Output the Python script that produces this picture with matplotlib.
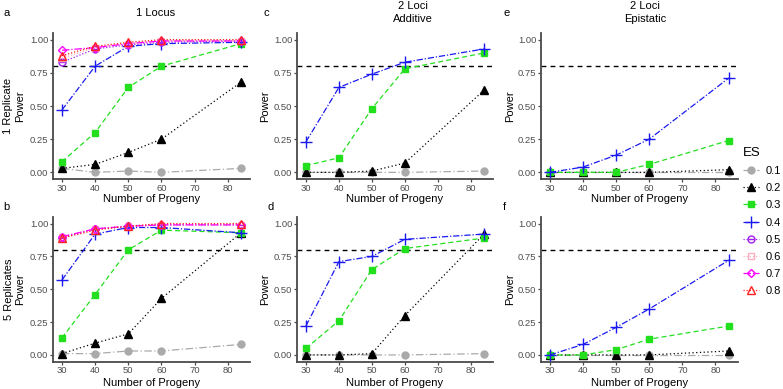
import matplotlib
matplotlib.use("Agg")
import matplotlib.pyplot as plt
from matplotlib.lines import Line2D

plt.rcParams['font.family'] = ['Liberation Sans', 'DejaVu Sans']

progeny = [30, 40, 50, 60, 84]
es_levels = ["0.1", "0.2", "0.3", "0.4", "0.5", "0.6", "0.7", "0.8"]

# Panel a: 1 locus, 1 replicate
a_vals = {
    "0.1": [0.03, 0.00, 0.01, 0.00, 0.03],
    "0.2": [0.03, 0.06, 0.15, 0.25, 0.68],
    "0.3": [0.08, 0.30, 0.64, 0.80, 0.97],
    "0.4": [0.47, 0.80, 0.95, 0.97, 0.98],
    "0.5": [0.83, 0.93, 0.96, 0.98, 0.99],
    "0.6": [0.86, 0.94, 0.97, 0.99, 0.99],
    "0.7": [0.92, 0.94, 0.97, 0.99, 0.99],
    "0.8": [0.88, 0.95, 0.98, 1.00, 1.00],
}
# Panel b: 1 locus, 5 replicates
b_vals = {
    "0.1": [0.01, 0.01, 0.03, 0.03, 0.08],
    "0.2": [0.01, 0.09, 0.16, 0.43, 0.93],
    "0.3": [0.13, 0.46, 0.80, 0.95, 0.93],
    "0.4": [0.57, 0.92, 0.97, 0.97, 0.93],
    "0.5": [0.89, 0.96, 0.98, 0.99, 0.99],
    "0.6": [0.90, 0.96, 0.98, 0.99, 0.99],
    "0.7": [0.90, 0.96, 0.98, 0.99, 0.99],
    "0.8": [0.89, 0.95, 0.98, 1.00, 1.00],
}
# Panel c: 2 loci additive, 1 replicate
c_vals = {
    "0.1": [0.00, 0.00, 0.00, 0.00, 0.01],
    "0.2": [0.00, 0.00, 0.01, 0.07, 0.62],
    "0.3": [0.05, 0.11, 0.48, 0.78, 0.90],
    "0.4": [0.23, 0.64, 0.74, 0.83, 0.93],
}
# Panel d: 2 loci additive, 5 replicates
d_vals = {
    "0.1": [0.00, 0.00, 0.00, 0.00, 0.01],
    "0.2": [0.00, 0.00, 0.01, 0.30, 0.92],
    "0.3": [0.05, 0.26, 0.65, 0.81, 0.89],
    "0.4": [0.22, 0.71, 0.75, 0.88, 0.92],
}
# Panel e: 2 loci epistatic, 1 replicate
e_vals = {
    "0.1": [0.00, 0.00, 0.00, 0.00, 0.00],
    "0.2": [0.00, 0.00, 0.00, 0.00, 0.02],
    "0.3": [0.00, 0.00, 0.00, 0.06, 0.24],
    "0.4": [0.00, 0.04, 0.13, 0.25, 0.71],
}
# Panel f: 2 loci epistatic, 5 replicates
f_vals = {
    "0.1": [0.00, 0.00, 0.00, 0.00, 0.00],
    "0.2": [0.00, 0.00, 0.00, 0.00, 0.03],
    "0.3": [0.00, 0.00, 0.04, 0.12, 0.22],
    "0.4": [0.00, 0.08, 0.21, 0.35, 0.72],
}

styles = {
    "0.1": dict(color="#AAAAAA", ls=(0, (6, 2, 1, 2)), marker="o", mfc="#AAAAAA"),
    "0.2": dict(color="black", ls=(0, (1, 2)), marker="^", mfc="black"),
    "0.3": dict(color="#22E01E", ls=(0, (4, 2.5)), marker="s", mfc="#22E01E"),
    "0.4": dict(color="#1A1AF0", ls=(0, (5, 1.5, 1, 1.5)), marker="+", mfc="#1A1AF0"),
    "0.5": dict(color="#A020F0", ls=(0, (1, 1.5)), marker="o", mfc="none"),
    "0.6": dict(color="#FFB0C0", ls=(0, (1, 1.5)), marker="s", mfc="none"),
    "0.7": dict(color="#FF00FF", ls=(0, (6, 1.5, 1, 1.5)), marker="D", mfc="none"),
    "0.8": dict(color="#FF2020", ls=(0, (1, 1.5)), marker="^", mfc="none"),
}
msizes = {"o": 5, "^": 5.5, "s": 4.8, "+": 8.5, "D": 4.5}

W, H = 783, 389
fig = plt.figure(figsize=(W / 100, H / 100), dpi=100)


def add_ax(left, right, top, bottom):
    return fig.add_axes([left / W, 1 - bottom / H, (right - left) / W, (bottom - top) / H])


def px(x, y):
    return x / W, 1 - y / H


def draw(ax, vals):
    for es in es_levels:
        if es not in vals:
            continue
        st = styles[es]
        m = st["marker"]
        ax.plot(progeny, vals[es], color=st["color"], ls=st["ls"], lw=0.9,
                marker=m, ms=msizes[m], mfc=st["mfc"], mec=st["color"],
                mew=1.0, clip_on=False, zorder=3)
        if es == "0.5":
            ax.plot(progeny, vals[es], ls="none", marker="_", ms=5,
                    mec=st["color"], mew=1.0, clip_on=False, zorder=3)
    ax.axhline(0.8, color="black", ls=(0, (3.5, 3)), lw=1.0, zorder=2)
    ax.set_xlim(27.3, 86.7)
    ax.set_ylim(-0.05, 1.05)
    ax.set_xticks([30, 40, 50, 60, 70, 80])
    ax.set_yticks([0, 0.25, 0.5, 0.75, 1.0])
    ax.set_yticklabels(["0.00", "0.25", "0.50", "0.75", "1.00"])
    for s in ["top", "right"]:
        ax.spines[s].set_visible(False)
    for s in ["left", "bottom"]:
        ax.spines[s].set_color("#4A4A4A")
        ax.spines[s].set_linewidth(1.3)
    ax.tick_params(axis="both", colors="#4A4A4A", labelcolor="#4D4D4D",
                   labelsize=6.8, length=2.2, width=0.9, pad=1.2)


axes_pos = {
    "a": (53, 250, 33, 179),
    "c": (297, 493, 33, 179),
    "e": (541, 737.6, 33, 179),
    "b": (53, 250, 217, 361.5),
    "d": (297, 493, 217, 361.5),
    "f": (541, 737.6, 217, 361.5),
}
panel_vals = {"a": a_vals, "b": b_vals, "c": c_vals, "d": d_vals, "e": e_vals, "f": f_vals}

for key, (l, r, t, b) in axes_pos.items():
    ax = add_ax(l, r, t, b)
    draw(ax, panel_vals[key])
    xl_y = 198.5 if key in "ace" else 382.5
    fig.text(*px((l + r) / 2, xl_y), "Number of Progeny", fontsize=8,
             ha="center", va="center")

# y labels
fig.text(*px(14, 106), "1 Replicate\nPower", fontsize=8, rotation=90,
         ha="center", va="center", linespacing=1.2)
fig.text(*px(14.5, 289), "5 Replicates\nPower", fontsize=8, rotation=90,
         ha="center", va="center", linespacing=1.2)
for x, y in [(265, 106), (265, 289), (510, 106), (510, 289)]:
    fig.text(*px(x, y), "Power", fontsize=8, rotation=90, ha="center", va="center")

# titles
fig.text(*px(156, 13.5), "1 Locus", fontsize=8, ha="center", va="center")
fig.text(*px(413, 6), "2 Loci", fontsize=8, ha="center", va="center")
fig.text(*px(413, 18.5), "Additive", fontsize=8, ha="center", va="center")
fig.text(*px(645, 6), "2 Loci", fontsize=8, ha="center", va="center")
fig.text(*px(645, 18.5), "Epistatic", fontsize=8, ha="center", va="center")

# panel letters
for lab, x, y in [("a", 4, 13), ("c", 263, 13), ("e", 503, 13),
                  ("b", 3, 207), ("d", 267, 207), ("f", 503, 207)]:
    fig.text(*px(x, y), lab, fontsize=8, ha="left", va="center")

# legend
handles = []
for es in es_levels:
    st = styles[es]
    m = st["marker"]
    h = Line2D([], [], color=st["color"], ls=st["ls"], lw=0.9, marker=m,
               ms=msizes[m], mfc=st["mfc"], mec=st["color"], mew=1.0)
    handles.append(h)

leg = fig.legend(handles, es_levels, title="ES", loc="upper left",
                 bbox_to_anchor=(741 / W, 1 - 144.5 / H), frameon=False,
                 fontsize=8, title_fontsize=9.5, handlelength=1.4,
                 handletextpad=0.6, labelspacing=0.648, borderpad=0.2,
                 borderaxespad=0)
leg._legend_box.align = "left"

fig.canvas.draw()
bb = leg.legend_handles[4].get_window_extent(fig.canvas.get_renderer())
cx, cy = (bb.x0 + bb.x1) / 2, (bb.y0 + bb.y1) / 2
fig.add_artist(Line2D([cx / W], [cy / H], transform=fig.transFigure, ls="none",
                      marker="_", ms=5, mec=styles["0.5"]["color"], mew=1.0))

fig.savefig("out.png", dpi=100)
